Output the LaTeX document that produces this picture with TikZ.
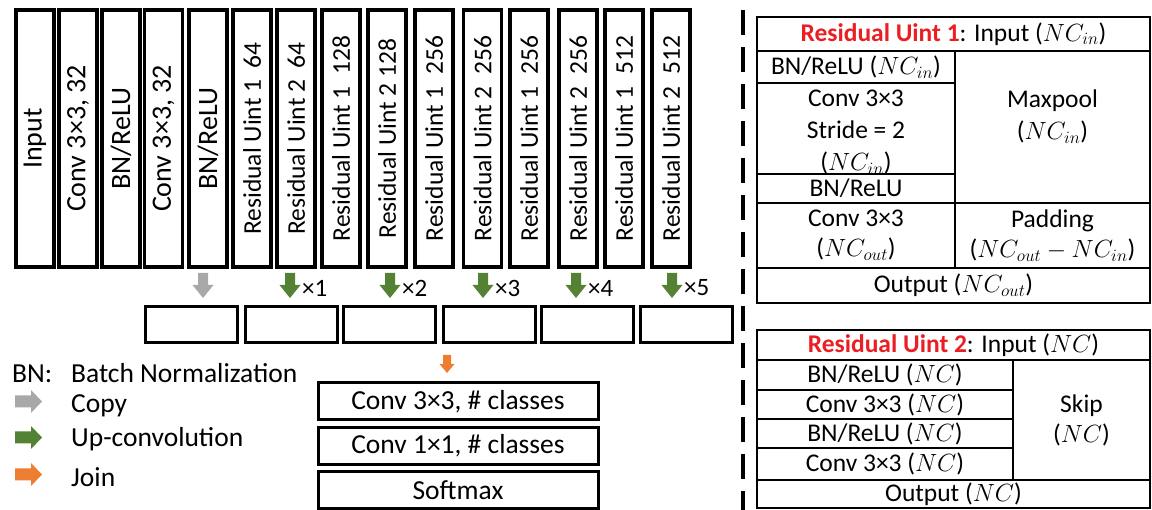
\documentclass[tikz,border=0pt]{standalone}
\usepackage{fontspec}
\setmainfont{Carlito}
\usepackage{graphicx}
\definecolor{agray}{RGB}{168,168,168}
\definecolor{agreen}{RGB}{84,130,53}
\definecolor{aorange}{RGB}{237,125,49}
\definecolor{tred}{RGB}{235,30,35}
\tikzset{
  vbox/.style={draw, line width=3.2pt, minimum width=38pt, minimum height=257pt, inner sep=0pt},
  vbig/.style={vbox, font=\fontsize{28}{30}\selectfont},
  vsmall/.style={vbox, font=\fontsize{25.5}{28}\selectfont},
  hbox/.style={draw, line width=3pt, minimum width=92pt, minimum height=36pt, inner sep=0pt},
  lbox/.style={draw, line width=3pt, minimum width=280pt, minimum height=37pt, inner sep=0pt, font=\fontsize{27.5}{30}\selectfont},
  cell/.style={draw, line width=2pt, inner sep=0pt, font=\fontsize{25.5}{30}\selectfont, align=center},
  ctext/.style={inner sep=0pt, font=\fontsize{25.5}{32}\selectfont, align=center},
  leg/.style={inner sep=0pt, anchor=base west, font=\fontsize{27.5}{30}\selectfont},
  mult/.style={inner sep=0pt, anchor=west, font=\fontsize{25}{28}\selectfont},
  darrow/.pic={\fill[#1] (-5,0) -- (5,0) -- (5,12) -- (10.5,12) -- (0,25) -- (-10.5,12) -- (-5,12) -- cycle;},
  sdarrow/.pic={\fill[#1] (-4,0) -- (4,0) -- (4,9) -- (7.5,9) -- (0,18) -- (-7.5,9) -- (-4,9) -- cycle;},
  rarrow/.pic={\fill[#1] (0,-6) -- (16,-6) -- (16,-11.5) -- (27,0) -- (16,11.5) -- (16,6) -- (0,6) -- cycle;}
}
\begin{document}
\begin{tikzpicture}[x=1pt,y=-1pt]
\useasboundingbox (0,0) rectangle (1152,510);

% vertical encoder boxes
\node[vbig]   (v1)  at (35,138.5)   {\rotatebox{90}{Input}};
\node[vbig]   (v2)  at (78,138.5)   {\rotatebox{90}{Conv 3×3, 32}};
\node[vbig]   (v3)  at (121,138.5)  {\rotatebox{90}{BN/ReLU}};
\node[vbig]   (v4)  at (163.5,138.5){\rotatebox{90}{Conv 3×3, 32}};
\node[vbig]   (v5)  at (208,138.5)  {\rotatebox{90}{BN/ReLU}};
\node[vsmall] (v6)  at (252,138.5)  {\rotatebox{90}{Residual Uint 1~ 64}};
\node[vsmall] (v7)  at (296,138.5)  {\rotatebox{90}{Residual Uint 2~ 64}};
\node[vsmall] (v8)  at (341,138.5)  {\rotatebox{90}{Residual Uint 1~ 128}};
\node[vsmall] (v9)  at (387,138.5)  {\rotatebox{90}{Residual Uint 2 128}};
\node[vsmall] (v10) at (434,138.5)  {\rotatebox{90}{Residual Uint 1~ 256}};
\node[vsmall] (v11) at (482.5,138.5){\rotatebox{90}{Residual Uint 2~ 256}};
\node[vsmall] (v12) at (529,138.5)  {\rotatebox{90}{Residual Uint 1~ 256}};
\node[vsmall] (v13) at (578,138.5)  {\rotatebox{90}{Residual Uint 2~ 256}};
\node[vsmall] (v14) at (624,138.5)  {\rotatebox{90}{Residual Uint 1~ 512}};
\node[vsmall] (v15) at (671,138.5)  {\rotatebox{90}{Residual Uint 2~ 512}};

% arrows down
\pic at (203,273) {darrow=agray};
\pic at (290,273) {darrow=agreen};
\pic at (390,273) {darrow=agreen};
\pic at (483,273) {darrow=agreen};
\pic at (576,273) {darrow=agreen};
\pic at (672,273) {darrow=agreen};
\node[mult] (m1) at (302,288) {×1};
\node[mult] (m2) at (402,288) {×2};
\node[mult] (m3) at (495,288) {×3};
\node[mult] (m4) at (588,288) {×4};
\node[mult] (m5) at (684,288) {×5};

% decoder row
\node[hbox] (h1) at (191.5,325) {};
\node[hbox] (h2) at (291.5,325) {};
\node[hbox] (h3) at (389,325)   {};
\node[hbox] (h4) at (489,325)   {};
\node[hbox] (h5) at (587.5,325) {};
\node[hbox] (h6) at (686.5,325) {};

\pic at (447,355) {sdarrow=aorange};

% output layers
\node[lbox] (o1) at (458,401.5) {Conv 3×3, \# classes};
\node[lbox] (o2) at (458,446)   {Conv 1×1, \# classes};
\node[lbox] (o3) at (458,490)   {Softmax};

% legend
\node[leg] (lbn)  at (12,383) {BN:};
\node[leg] (lbnt) at (71,383) {Batch Normalization};
\pic at (15,401.5) {rarrow=agray};
\node[leg] (lcp)  at (71,413) {Copy};
\pic at (15,437.5) {rarrow=agreen};
\node[leg] (luc)  at (71,447) {Up-convolution};
\pic at (15,474.5) {rarrow=aorange};
\node[leg] (ljn)  at (71,486) {Join};

% divider
\coordinate (dtop) at (743,10);
\coordinate (dbot) at (743,510);
\draw[line width=4.5pt, dash pattern=on 25pt off 12pt] (dtop) -- (dbot);

% Residual Unit 1 table
\node[cell, minimum width=393pt, minimum height=34pt] (t1h) at (953.5,34) {\textcolor{tred}{\bfseries Residual Uint 1}: Input ($NC_{in}$)};
\node[cell, minimum width=198pt, minimum height=32pt] (t1a) at (856,67) {BN/ReLU ($NC_{in}$)};
\node[cell, minimum width=198pt, minimum height=91pt] (t1b) at (856,128.5) {};
\node[ctext] (t1bt) at (856,132) {Conv 3×3\\Stride = 2\\($NC_{in}$)};
\node[cell, minimum width=198pt, minimum height=29pt] (t1c) at (856,188.5) {BN/ReLU};
\node[cell, minimum width=195pt, minimum height=152pt] (t1m) at (1052.5,127) {};
\node[ctext] (t1mt) at (1052.5,117) {Maxpool\\($NC_{in}$)};
\node[cell, minimum width=198pt, minimum height=65pt] (t1d) at (856,235.5) {Conv 3×3\\($NC_{out}$)};
\node[cell, minimum width=195pt, minimum height=65pt] (t1p) at (1052.5,235.5) {Padding\\($NC_{out}-NC_{in}$)};
\node[cell, minimum width=393pt, minimum height=35pt] (t1o) at (953.5,285.5) {Output ($NC_{out}$)};

% Residual Unit 2 table
\node[cell, minimum width=393pt, minimum height=30pt] (t2h) at (953.5,345) {\textcolor{tred}{\bfseries Residual Uint 2}: Input ($NC$)};
\node[cell, minimum width=256pt, minimum height=30pt] (t2a) at (885,375) {BN/ReLU ($NC$)};
\node[cell, minimum width=256pt, minimum height=29pt] (t2b) at (885,404.5) {Conv 3×3 ($NC$)};
\node[cell, minimum width=256pt, minimum height=29pt] (t2c) at (885,433.5) {BN/ReLU ($NC$)};
\node[cell, minimum width=256pt, minimum height=32pt] (t2d) at (885,464) {Conv 3×3 ($NC$)};
\node[cell, minimum width=137pt, minimum height=120pt] (t2s) at (1081.5,420) {Skip\\($NC$)};
\node[cell, minimum width=393pt, minimum height=28pt] (t2o) at (953.5,494) {Output ($NC$)};
\end{tikzpicture}
\end{document}
